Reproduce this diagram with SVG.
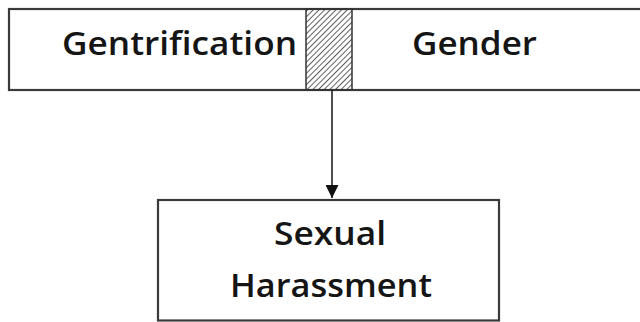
<svg xmlns="http://www.w3.org/2000/svg" width="640" height="322" viewBox="0 0 640 322">
  <defs>
    <pattern id="hatch" patternUnits="userSpaceOnUse" width="4" height="4" patternTransform="rotate(45)">
      <line x1="0" y1="0" x2="0" y2="4" stroke="#2a2a2a" stroke-width="1.5"/>
    </pattern>
    <marker id="arrow" viewBox="0 0 10 10" refX="10" refY="5" markerWidth="17" markerHeight="13" markerUnits="userSpaceOnUse" orient="auto">
      <path d="M0,0 L10,5 L0,10 z" fill="#111"/>
    </marker>
  </defs>
  <style>
    .box { fill: #fff; stroke: #3a3a3a; stroke-width: 2.2; }
    .label { font-family: "Open Sans", "Liberation Sans", sans-serif; font-weight: 600; font-size: 33px; fill: #151515; }
    .edge { stroke: #222; stroke-width: 1.6; fill: none; }
  </style>
  <rect width="640" height="322" fill="#fff"/>

  <g id="top-bar">
    <rect class="box" x="9" y="9" width="640" height="81"/>
    <rect x="306" y="9" width="46" height="81" fill="url(#hatch)" stroke="#333" stroke-width="1.5"/>
    <text class="label" x="62" y="55" textLength="235" lengthAdjust="spacingAndGlyphs">Gentrification</text>
    <text class="label" x="412" y="55" textLength="125" lengthAdjust="spacingAndGlyphs">Gender</text>
  </g>

  <g id="sexual-harassment">
    <rect class="box" x="158" y="200" width="341" height="120.5"/>
    <text class="label" x="274" y="245" textLength="112" lengthAdjust="spacingAndGlyphs">Sexual</text>
    <text class="label" x="230" y="297" textLength="202" lengthAdjust="spacingAndGlyphs">Harassment</text>
  </g>

  <g id="connectors">
    <line class="edge" x1="332" y1="90" x2="332" y2="198" marker-end="url(#arrow)"/>
  </g>
</svg>
